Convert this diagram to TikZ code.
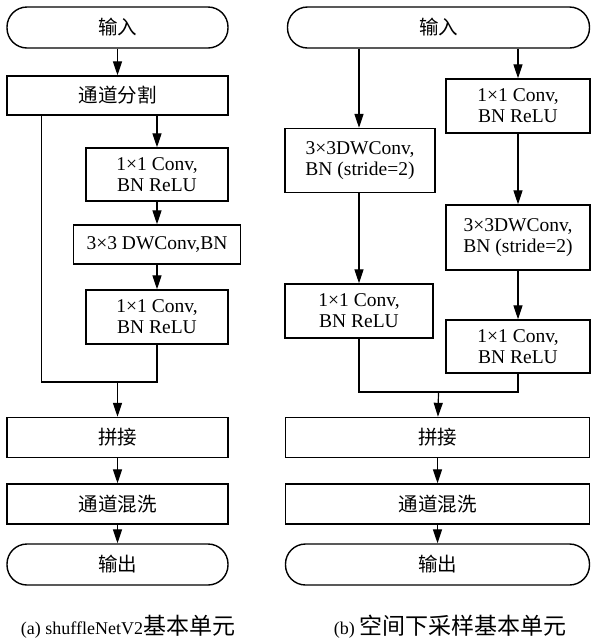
\documentclass[tikz,border=0pt]{standalone}
\usepackage{fontspec}
\setmainfont{Liberation Serif}
\newfontfamily\cjk{Noto Sans CJK SC}
\usetikzlibrary{arrows.meta}

\tikzset{
  blk/.style={draw,line width=1.4pt,align=center,inner sep=0pt,
    font=\fontsize{19.5}{21}\selectfont},
  term/.style={blk,rounded corners=20pt},
  flow/.style={line width=1.2pt,-{Triangle[length=14pt,width=9pt]}},
  link/.style={line width=1.2pt},
  caption/.style={font=\fontsize{18}{22}\selectfont},
}

\begin{document}
\begin{tikzpicture}[x=1pt,y=-1pt]
  \useasboundingbox (0,0) rectangle (591,641);
  % (a) basic unit
  \node[term,minimum width=221pt,minimum height=41pt] (inA) at (117.5,27.5) {\cjk 输入};
  \node[blk,minimum width=221pt,minimum height=39pt] (splitA) at (117.5,95.5) {\cjk 通道分割};
  \node[blk,minimum width=142pt,minimum height=53pt] (a1) at (157,174.5) {1×1 Conv,\\BN ReLU};
  \node[blk,minimum width=167pt,minimum height=39pt] (a2) at (157,244.5) {3×3 DWConv,BN};
  \node[blk,minimum width=142pt,minimum height=54pt] (a3) at (157,317) {1×1 Conv,\\BN ReLU};
  \coordinate (mergeA) at (117.5,382);
  \node[blk,minimum width=221pt,minimum height=40pt] (catA) at (117.5,437.5) {\cjk 拼接};
  \node[blk,minimum width=221pt,minimum height=40pt] (shufA) at (117.5,504) {\cjk 通道混洗};
  \node[term,minimum width=221pt,minimum height=41pt] (outA) at (117.5,564.5) {\cjk 输出};
  \node[caption] (capA) at (128,627) {(a) shuffleNetV2{\cjk\fontsize{23}{24}\selectfont 基本单元}};

  \draw[flow] (inA) -- (splitA);
  \draw[flow] (splitA.south -| a1) -- (a1);
  \draw[flow] (a1) -- (a2);
  \draw[flow] (a2) -- (a3);
  \draw[link] ([xshift=35pt]splitA.south west) |- (mergeA);
  \draw[link] (a3.south) |- (mergeA);
  \draw[flow] (mergeA) -- (catA);
  \draw[flow] (catA) -- (shufA);
  \draw[flow] (shufA) -- (outA);

  % (b) down-sampling unit
  \node[term,minimum width=302pt,minimum height=41pt] (inB) at (438.5,27.5) {\cjk 输入};
  \node[blk,minimum width=150pt,minimum height=64pt] (b1) at (360,160.5) {3×3DWConv,\\BN (stride=2)};
  \node[blk,minimum width=148pt,minimum height=54pt] (b4) at (359,311) {1×1 Conv,\\BN ReLU};
  \node[blk,minimum width=144pt,minimum height=54pt] (b2) at (518,106) {1×1 Conv,\\BN ReLU};
  \node[blk,minimum width=144pt,minimum height=65pt] (b3) at (518,237.5) {3×3DWConv,\\BN (stride=2)};
  \node[blk,minimum width=144pt,minimum height=53pt] (b5) at (518,346.5) {1×1 Conv,\\BN ReLU};
  \coordinate (mergeB) at (438.5,392);
  \node[blk,minimum width=304pt,minimum height=40pt] (catB) at (437.5,437.5) {\cjk 拼接};
  \node[blk,minimum width=304pt,minimum height=40pt] (shufB) at (437.5,504) {\cjk 通道混洗};
  \node[term,minimum width=304pt,minimum height=41pt] (outB) at (437.5,564.5) {\cjk 输出};
  \node[caption] (capB) at (450,627) {(b) {\cjk\fontsize{23}{24}\selectfont 空间下采样基本单元}};

  \draw[flow] (inB.south -| b4) -- (b1.north -| b4);
  \draw[flow] (b1.south -| b4) -- (b4);
  \draw[flow] (inB.south -| b2) -- (b2);
  \draw[flow] (b2) -- (b3);
  \draw[flow] (b3) -- (b5);
  \draw[link] (b4.south) |- (mergeB) -| (b5.south);
  \draw[flow] (mergeB) -- (catB);
  \draw[flow] (catB) -- (shufB);
  \draw[flow] (shufB) -- (outB);
\end{tikzpicture}
\end{document}
